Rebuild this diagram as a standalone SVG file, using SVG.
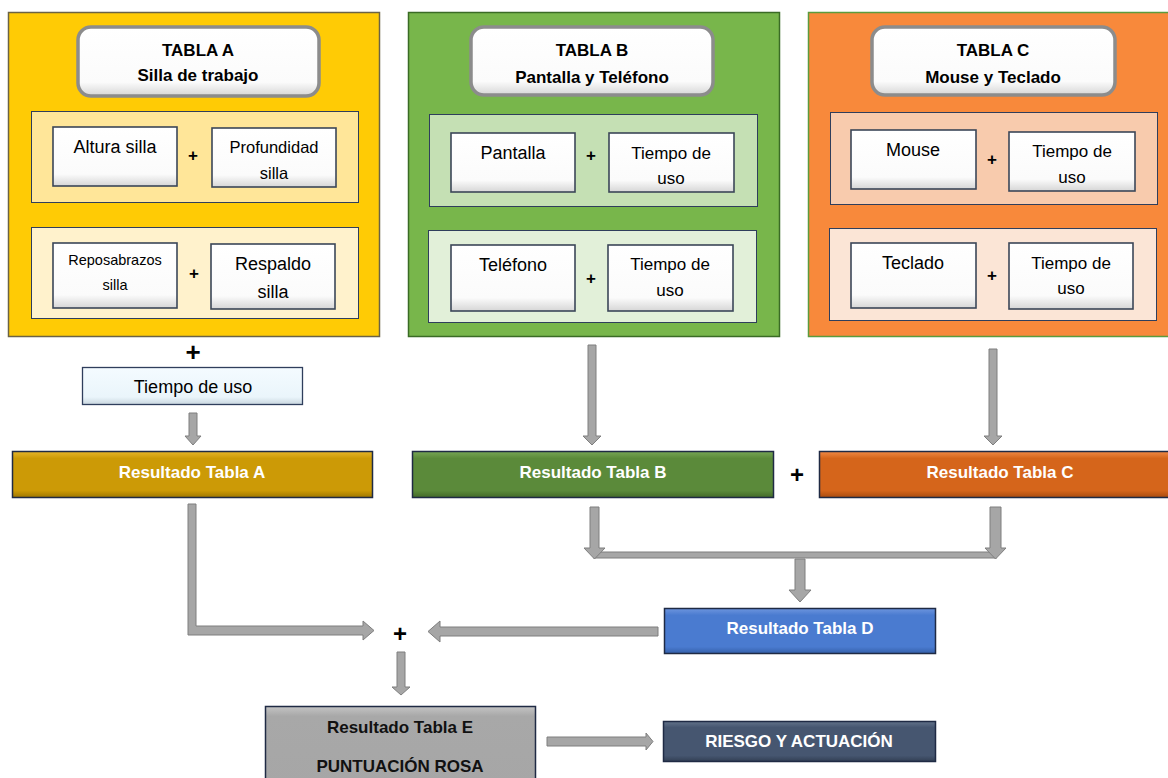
<svg xmlns="http://www.w3.org/2000/svg" width="1168" height="778" viewBox="0 0 1168 778">
<defs>
<style>
text{font-family:"Liberation Sans",Arial,sans-serif;text-anchor:middle;fill:#000}
.tt{font-size:17px;font-weight:bold}
.it{font-size:18px}
.tu{font-size:17px}
.pl{font-size:17px;font-weight:bold}
.pb{font-size:26px;font-weight:bold}
.rs{font-size:17px;font-weight:bold;fill:#fff}
.rk{font-size:17px;font-weight:bold;fill:#111}
.sub{stroke:#2f3e5c;stroke-width:1}
.wb{fill:url(#gw);stroke:#3b4658;stroke-width:1.6}
.tb{fill:url(#gw);stroke:#8c8c8c;stroke-width:3.5}
.res{stroke:#1f2a44;stroke-width:1.5}
.arr{fill:#a6a6a6;stroke:#7f7f7f;stroke-width:1}
</style>
<linearGradient id="gw" x1="0" y1="0" x2="0" y2="1"><stop offset="0" stop-color="#fff"/><stop offset="0.8" stop-color="#fbfbfb"/><stop offset="1" stop-color="#d6d6d6"/></linearGradient>
<linearGradient id="ga" x1="0" y1="0" x2="0" y2="1"><stop offset="0" stop-color="#e6b52a"/><stop offset="0.15" stop-color="#cc9a06"/><stop offset="0.85" stop-color="#cc9a06"/><stop offset="1" stop-color="#9e7700"/></linearGradient>
<linearGradient id="gb" x1="0" y1="0" x2="0" y2="1"><stop offset="0" stop-color="#77a655"/><stop offset="0.15" stop-color="#5b8a3a"/><stop offset="0.85" stop-color="#5b8a3a"/><stop offset="1" stop-color="#436a28"/></linearGradient>
<linearGradient id="gc" x1="0" y1="0" x2="0" y2="1"><stop offset="0" stop-color="#f08a45"/><stop offset="0.15" stop-color="#d5651b"/><stop offset="0.85" stop-color="#d5651b"/><stop offset="1" stop-color="#a94c10"/></linearGradient>
<linearGradient id="gd" x1="0" y1="0" x2="0" y2="1"><stop offset="0" stop-color="#6d95de"/><stop offset="0.15" stop-color="#4a7bd0"/><stop offset="0.85" stop-color="#4a7bd0"/><stop offset="1" stop-color="#3560aa"/></linearGradient>
<linearGradient id="ge" x1="0" y1="0" x2="0" y2="1"><stop offset="0" stop-color="#c4c4c4"/><stop offset="0.12" stop-color="#a8a8a8"/><stop offset="1" stop-color="#a6a6a6"/></linearGradient>
<linearGradient id="gr" x1="0" y1="0" x2="0" y2="1"><stop offset="0" stop-color="#62728a"/><stop offset="0.15" stop-color="#465670"/><stop offset="0.85" stop-color="#465670"/><stop offset="1" stop-color="#323f54"/></linearGradient>
<linearGradient id="gt" x1="0" y1="0" x2="0" y2="1"><stop offset="0" stop-color="#f4fbff"/><stop offset="0.8" stop-color="#eaf5fb"/><stop offset="1" stop-color="#c9d6de"/></linearGradient>
</defs>

<g id="panelA">
<rect x="8.5" y="12.5" width="371" height="324" fill="#ffcb05" stroke="#6b6345" stroke-width="1.5"/>
<rect x="78" y="27" width="241" height="69" rx="13" class="tb"/>
<text class="tt" x="198" y="56">TABLA A</text>
<text class="tt" x="198" y="81">Silla de trabajo</text>
<rect x="31.5" y="111.5" width="327" height="91" fill="#ffe699" class="sub"/>
<rect x="53" y="127" width="124" height="59" class="wb"/>
<text class="it" x="115" y="153">Altura silla</text>
<text class="pl" x="193" y="161">+</text>
<rect x="212" y="128" width="124" height="59" class="wb"/>
<text class="tu" x="274" y="153" style="font-size:16.5px">Profundidad</text>
<text class="tu" x="274" y="179" style="font-size:16.5px">silla</text>
<rect x="31.5" y="227.5" width="327" height="91" fill="#fff2cc" class="sub"/>
<rect x="53" y="243" width="124" height="65" class="wb"/>
<text class="tu" x="115" y="265" style="font-size:14.5px">Reposabrazos</text>
<text class="tu" x="115" y="290" style="font-size:14.5px">silla</text>
<text class="pl" x="194" y="279">+</text>
<rect x="211" y="244" width="124" height="65" class="wb"/>
<text class="it" x="273" y="270">Respaldo</text>
<text class="it" x="273" y="298">silla</text>
</g>

<g id="panelB">
<rect x="408.5" y="12.5" width="371" height="324" fill="#78b64b" stroke="#3a6b25" stroke-width="1.5"/>
<rect x="471" y="27" width="242" height="68" rx="13" class="tb"/>
<text class="tt" x="592" y="56">TABLA B</text>
<text class="tt" x="592" y="83">Pantalla y Teléfono</text>
<rect x="429.5" y="114.5" width="328" height="92" fill="#c5e0b4" class="sub"/>
<rect x="451" y="133" width="124" height="59" class="wb"/>
<text class="it" x="513" y="159">Pantalla</text>
<text class="pl" x="591" y="161">+</text>
<rect x="609" y="133" width="125" height="59" class="wb"/>
<text class="tu" x="671" y="159">Tiempo de</text>
<text class="tu" x="671" y="184">uso</text>
<rect x="428.5" y="230.5" width="328" height="92" fill="#e2f0d9" class="sub"/>
<rect x="451" y="245" width="124" height="66" class="wb"/>
<text class="it" x="513" y="271">Teléfono</text>
<text class="pl" x="591" y="284">+</text>
<rect x="608" y="245" width="125" height="66" class="wb"/>
<text class="tu" x="670" y="270">Tiempo de</text>
<text class="tu" x="670" y="296">uso</text>
</g>

<g id="panelC">
<rect x="808.5" y="12.5" width="372" height="324" fill="#f8893b" stroke="#5b9b3e" stroke-width="1.5"/>
<rect x="872" y="27" width="243" height="68" rx="13" class="tb"/>
<text class="tt" x="993" y="56">TABLA C</text>
<text class="tt" x="993" y="83">Mouse y Teclado</text>
<rect x="830.5" y="112.5" width="327" height="92" fill="#f8cbad" class="sub"/>
<rect x="851" y="130" width="125" height="59" class="wb"/>
<text class="it" x="913" y="156">Mouse</text>
<text class="pl" x="992" y="165">+</text>
<rect x="1009" y="132" width="126" height="59" class="wb"/>
<text class="tu" x="1072" y="157">Tiempo de</text>
<text class="tu" x="1072" y="183">uso</text>
<rect x="829.5" y="228.5" width="327" height="92" fill="#fbe5d6" class="sub"/>
<rect x="851" y="243" width="125" height="65" class="wb"/>
<text class="it" x="913" y="269">Teclado</text>
<text class="pl" x="992" y="281">+</text>
<rect x="1009" y="243" width="124" height="66" class="wb"/>
<text class="tu" x="1071" y="269">Tiempo de</text>
<text class="tu" x="1071" y="294">uso</text>
</g>

<g id="plusA"><text class="pb" x="193" y="361">+</text></g>
<g id="tiempoA">
<rect x="82.5" y="367.5" width="220" height="37" fill="url(#gt)" stroke="#2f3e5c" stroke-width="1.3"/>
<text class="it" x="193" y="393">Tiempo de uso</text>
</g>

<g id="resA"><rect x="12.5" y="451.5" width="360" height="46" fill="url(#ga)" class="res"/><text class="rs" x="192" y="478">Resultado Tabla A</text></g>
<g id="resB"><rect x="412.5" y="451.5" width="361" height="46" fill="url(#gb)" class="res"/><text class="rs" x="593" y="478">Resultado Tabla B</text></g>
<g id="plusBC"><text class="pb" x="797" y="483" style="font-size:24px">+</text></g>
<g id="resC"><rect x="819.5" y="451.5" width="360" height="46" fill="url(#gc)" class="res"/><text class="rs" x="1000" y="478">Resultado Tabla C</text></g>
<g id="resD"><rect x="664.5" y="608.5" width="271" height="45" fill="url(#gd)" class="res"/><text class="rs" x="800" y="634">Resultado Tabla D</text></g>
<g id="plusE"><text class="pb" x="400" y="642" style="font-size:24px">+</text></g>
<g id="resE"><rect x="265.5" y="706.5" width="270" height="80" fill="url(#ge)" class="res"/><text class="rk" x="400" y="733">Resultado Tabla E</text><text class="rk" x="400" y="772">PUNTUACIÓN ROSA</text></g>
<g id="riesgo"><rect x="663.5" y="721.5" width="272" height="40" fill="url(#gr)" class="res"/><text class="rs" x="799" y="747">RIESGO Y ACTUACIÓN</text></g>

<g id="connectors">
<polygon class="arr" points="189,413 197,413 197,436 201,436 193,445 185,436 189,436"/>
<polygon class="arr" points="588,345 596,345 596,436 601,436 592,445 583,436 588,436"/>
<polygon class="arr" points="989,349 997,349 997,436 1002,436 993,445 984,436 989,436"/>
<polygon class="arr" points="188,504 196,504 196,626 363,626 363,621 374,630.5 363,640 363,635 188,635"/>
<rect class="arr" x="594" y="552" width="402" height="6"/>
<polygon class="arr" points="590,507 599,507 599,548 605,548 594.5,559 584,548 590,548"/>
<polygon class="arr" points="990,507 1001,507 1001,548 1006,548 995.5,559 985,548 990,548"/>
<polygon class="arr" points="795,559 805,559 805,590 811,590 800,602 789,590 795,590"/>
<polygon class="arr" points="658,627 658,636 440,636 440,642 428,631.5 440,621 440,627"/>
<polygon class="arr" points="397,652 405,652 405,687 410,687 401,695 392,687 397,687"/>
<polygon class="arr" points="547,737 646,737 646,733 653,741.5 646,750 646,746 547,746"/>
</g>
</svg>
